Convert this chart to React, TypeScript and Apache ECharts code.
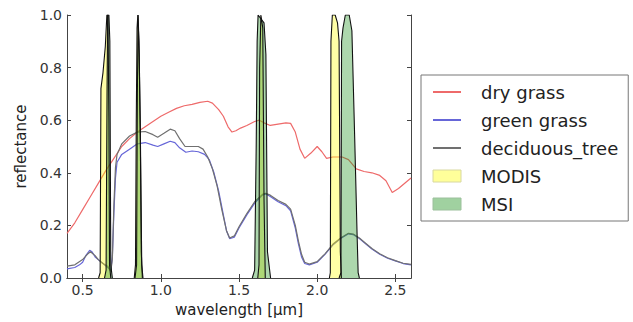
import React, { useEffect, useRef } from "react";
import * as echarts from "echarts";

// ---- data ----
const dryGrassWl = [0.40, 0.45, 0.50, 0.55, 0.60, 0.65, 0.70, 0.75, 0.80, 0.85, 0.90, 0.95, 1.00, 1.05, 1.10, 1.15, 1.20, 1.25, 1.30, 1.33, 1.37, 1.40, 1.43, 1.455, 1.48, 1.51, 1.55, 1.60, 1.63, 1.66, 1.70, 1.75, 1.80, 1.83, 1.86, 1.89, 1.92, 1.96, 2.00, 2.03, 2.06, 2.10, 2.16, 2.20, 2.25, 2.30, 2.35, 2.40, 2.44, 2.48, 2.52, 2.56, 2.60];
const dryGrassR = [0.17, 0.21, 0.26, 0.31, 0.36, 0.41, 0.455, 0.50, 0.53, 0.555, 0.575, 0.595, 0.615, 0.63, 0.645, 0.655, 0.66, 0.668, 0.672, 0.665, 0.64, 0.615, 0.575, 0.555, 0.56, 0.57, 0.58, 0.595, 0.60, 0.59, 0.58, 0.585, 0.59, 0.588, 0.555, 0.49, 0.455, 0.475, 0.50, 0.48, 0.455, 0.46, 0.46, 0.45, 0.415, 0.405, 0.40, 0.39, 0.37, 0.325, 0.34, 0.36, 0.38];

const greenGrassWl = [0.40, 0.45, 0.48, 0.50, 0.52, 0.545, 0.56, 0.58, 0.60, 0.63, 0.66, 0.68, 0.69, 0.70, 0.71, 0.72, 0.75, 0.80, 0.85, 0.90, 0.95, 0.98, 1.02, 1.06, 1.09, 1.12, 1.16, 1.20, 1.24, 1.28, 1.31, 1.34, 1.37, 1.40, 1.42, 1.44, 1.47, 1.50, 1.55, 1.60, 1.65, 1.67, 1.70, 1.75, 1.80, 1.83, 1.86, 1.88, 1.90, 1.92, 1.95, 2.00, 2.05, 2.10, 2.15, 2.20, 2.23, 2.27, 2.30, 2.35, 2.40, 2.45, 2.50, 2.55, 2.60];
const greenGrassR = [0.035, 0.04, 0.05, 0.06, 0.085, 0.105, 0.10, 0.08, 0.07, 0.055, 0.04, 0.03, 0.08, 0.25, 0.38, 0.44, 0.47, 0.49, 0.51, 0.515, 0.505, 0.50, 0.51, 0.52, 0.515, 0.495, 0.478, 0.483, 0.48, 0.47, 0.45, 0.40, 0.33, 0.24, 0.18, 0.15, 0.155, 0.19, 0.24, 0.285, 0.315, 0.32, 0.31, 0.29, 0.275, 0.255, 0.19, 0.13, 0.08, 0.055, 0.05, 0.06, 0.09, 0.125, 0.15, 0.168, 0.165, 0.15, 0.135, 0.11, 0.09, 0.075, 0.065, 0.055, 0.05];

const treeWl = [0.40, 0.45, 0.50, 0.53, 0.55, 0.58, 0.60, 0.63, 0.66, 0.68, 0.69, 0.70, 0.71, 0.72, 0.75, 0.80, 0.85, 0.90, 0.95, 0.98, 1.02, 1.06, 1.09, 1.12, 1.155, 1.20, 1.24, 1.27, 1.30, 1.33, 1.36, 1.39, 1.42, 1.44, 1.47, 1.50, 1.55, 1.60, 1.65, 1.67, 1.70, 1.75, 1.80, 1.83, 1.86, 1.88, 1.90, 1.92, 1.95, 2.00, 2.05, 2.10, 2.15, 2.20, 2.23, 2.27, 2.30, 2.35, 2.40, 2.45, 2.50, 2.55, 2.60];
const treeR = [0.045, 0.05, 0.07, 0.09, 0.10, 0.085, 0.07, 0.055, 0.045, 0.025, 0.07, 0.28, 0.42, 0.47, 0.51, 0.54, 0.555, 0.557, 0.545, 0.535, 0.55, 0.566, 0.56, 0.53, 0.50, 0.50, 0.50, 0.49, 0.46, 0.415, 0.35, 0.26, 0.18, 0.152, 0.16, 0.195, 0.245, 0.29, 0.318, 0.322, 0.315, 0.295, 0.28, 0.262, 0.2, 0.14, 0.09, 0.06, 0.053, 0.062, 0.092, 0.128, 0.152, 0.17, 0.167, 0.152, 0.137, 0.112, 0.092, 0.077, 0.066, 0.056, 0.052];

// MODIS spectral bands (wavelength, relative response)
const modisB1Wl = [0.602, 0.612, 0.617, 0.630, 0.645, 0.655, 0.662, 0.668, 0.672, 0.680];
const modisB1R = [0, 0.02, 0.72, 0.78, 0.88, 1.0, 1.0, 0.6, 0.05, 0];
const modisB2Wl = [0.830, 0.838, 0.843, 0.848, 0.853, 0.860, 0.868, 0.875, 0.882];
const modisB2R = [0, 0.05, 0.6, 0.95, 1.0, 0.9, 0.6, 0.1, 0];
const modisB6Wl = [1.620, 1.628, 1.632, 1.640, 1.652, 1.660, 1.668];
const modisB6R = [0, 0.05, 0.8, 1.0, 0.95, 0.3, 0];
const modisB7Wl = [2.078, 2.084, 2.088, 2.097, 2.115, 2.130, 2.140, 2.148, 2.155];
const modisB7R = [0, 0.02, 0.9, 1.0, 1.0, 0.97, 0.9, 0.1, 0];

// MSI spectral bands
const msiB4Wl = [0.640, 0.650, 0.656, 0.660, 0.668, 0.674, 0.680, 0.690];
const msiB4R = [0, 0.03, 0.7, 1.0, 1.0, 0.9, 0.05, 0];
const msiB8aWl = [0.835, 0.845, 0.850, 0.855, 0.862, 0.870, 0.878, 0.886];
const msiB8aR = [0, 0.05, 0.7, 1.0, 0.85, 0.5, 0.05, 0];
const msiB11Wl = [1.585, 1.600, 1.610, 1.616, 1.622, 1.660, 1.672, 1.682, 1.702];
const msiB11R = [0, 0.03, 0.5, 0.9, 1.0, 0.97, 0.85, 0.1, 0];
const msiB12Wl = [2.140, 2.152, 2.156, 2.165, 2.180, 2.205, 2.222, 2.240, 2.255, 2.262, 2.270];
const msiB12R = [0, 0.02, 0.9, 0.95, 1.0, 1.0, 0.94, 0.53, 0.17, 0.02, 0];

const xTicks = [0.5, 1.0, 1.5, 2.0, 2.5];
const seriesNames = ["dry grass", "green grass", "deciduous_tree", "MODIS", "MSI"];

const zip = (xs: number[], ys: number[]) => xs.map((x, i) => [x, ys[i]]);

const FONT = "DejaVu Sans";

export default function App() {
  const ref = useRef<HTMLDivElement>(null);

  useEffect(() => {
    if (!ref.current) return;
    const chart = echarts.init(ref.current, null, { renderer: "svg" });

    const lineSeries = (name: string, data: number[][], color: string) => ({
      name,
      type: "line",
      data,
      symbol: "none",
      showSymbol: false,
      lineStyle: { color, width: 1.2 },
      itemStyle: { color },
      z: 2,
    });

    const bandSeries = (name: string, data: number[][], fill: string) => ({
      name,
      type: "line",
      data,
      symbol: "none",
      showSymbol: false,
      lineStyle: { color: "#111", width: 1.1 },
      itemStyle: { color: "#111" },
      areaStyle: { color: fill, origin: "start", opacity: 1 },
      z: 3,
    });

    const modisFill = "rgba(255,255,0,0.35)";
    const msiFill = "rgba(40,150,40,0.38)";

    const option: any = {
      animation: false,
      backgroundColor: "#ffffff",
      grid: { left: 67, top: 15, right: 222, bottom: 42, containLabel: false },
      xAxis: [
        {
          type: "value",
          min: 0.4,
          max: 2.6,
          name: "wavelength [µm]",
          nameLocation: "middle",
          nameGap: 24,
          nameTextStyle: { fontFamily: FONT, fontSize: 15, color: "#222" },
          axisLine: { show: true, lineStyle: { color: "#444", width: 1 } },
          axisTick: { show: true, inside: true, length: 4, customValues: xTicks, lineStyle: { color: "#444" } },
          axisLabel: {
            show: true,
            customValues: xTicks,
            margin: 5,
            fontFamily: FONT,
            fontSize: 14,
            color: "#333",
            formatter: (v: number) => v.toFixed(1),
          },
          splitLine: { show: false },
        },
        {
          type: "value",
          position: "top",
          min: 0.4,
          max: 2.6,
          axisLine: { show: true, lineStyle: { color: "#444", width: 1 } },
          axisTick: { show: true, inside: true, length: 4, customValues: xTicks, lineStyle: { color: "#444" } },
          axisLabel: { show: false },
          splitLine: { show: false },
        },
      ],
      yAxis: [
        {
          type: "value",
          min: 0,
          max: 1,
          interval: 0.2,
          name: "reflectance",
          nameLocation: "middle",
          nameGap: 28,
          nameTextStyle: { fontFamily: FONT, fontSize: 15, color: "#222" },
          axisLine: { show: true, lineStyle: { color: "#444", width: 1 } },
          axisTick: { show: true, inside: true, length: 4, lineStyle: { color: "#444" } },
          axisLabel: {
            margin: 5,
            fontFamily: FONT,
            fontSize: 14,
            color: "#333",
            formatter: (v: number) => v.toFixed(1),
          },
          splitLine: { show: false },
        },
        {
          type: "value",
          position: "right",
          min: 0,
          max: 1,
          interval: 0.2,
          axisLine: { show: true, lineStyle: { color: "#444", width: 1 } },
          axisTick: { show: true, inside: true, length: 4, lineStyle: { color: "#444" } },
          axisLabel: { show: false },
          splitLine: { show: false },
        },
      ],
      legend: {
        orient: "vertical",
        left: 421,
        top: 75,
        padding: [7, 10, 7, 11],
        itemGap: 8,
        itemWidth: 28,
        itemHeight: 12,
        selectedMode: false,
        borderColor: "#777",
        borderWidth: 1,
        backgroundColor: "#ffffff",
        textStyle: { fontFamily: FONT, fontSize: 18, color: "#222", lineHeight: 20, padding: [0, 0, 0, 15] },
        data: [
          { name: seriesNames[0], itemStyle: { opacity: 0 } },
          { name: seriesNames[1], itemStyle: { opacity: 0 } },
          { name: seriesNames[2], itemStyle: { opacity: 0 } },
          { name: seriesNames[3], icon: "rect", itemStyle: { color: "rgba(255,255,120,0.75)", borderColor: "#d8d8a0", borderWidth: 1 } },
          { name: seriesNames[4], icon: "rect", itemStyle: { color: "rgba(120,190,120,0.7)", borderColor: "#9cc09c", borderWidth: 1 } },
        ],
      },
      series: [
        lineSeries(seriesNames[0], zip(dryGrassWl, dryGrassR), "#ee6a6a"),
        lineSeries(seriesNames[1], zip(greenGrassWl, greenGrassR), "#6666d8"),
        lineSeries(seriesNames[2], zip(treeWl, treeR), "#707070"),
        bandSeries(seriesNames[3], zip(modisB1Wl, modisB1R), modisFill),
        bandSeries(seriesNames[3], zip(modisB2Wl, modisB2R), modisFill),
        bandSeries(seriesNames[3], zip(modisB6Wl, modisB6R), modisFill),
        bandSeries(seriesNames[3], zip(modisB7Wl, modisB7R), modisFill),
        bandSeries(seriesNames[4], zip(msiB4Wl, msiB4R), msiFill),
        bandSeries(seriesNames[4], zip(msiB8aWl, msiB8aR), msiFill),
        bandSeries(seriesNames[4], zip(msiB11Wl, msiB11R), msiFill),
        bandSeries(seriesNames[4], zip(msiB12Wl, msiB12R), msiFill),
      ],
    };

    chart.setOption(option);
    return () => chart.dispose();
  }, []);

  return (
    <div
      ref={ref}
      style={{ position: "fixed", left: 0, top: 0, width: 633, height: 322, background: "#fff" }}
    />
  );
}
